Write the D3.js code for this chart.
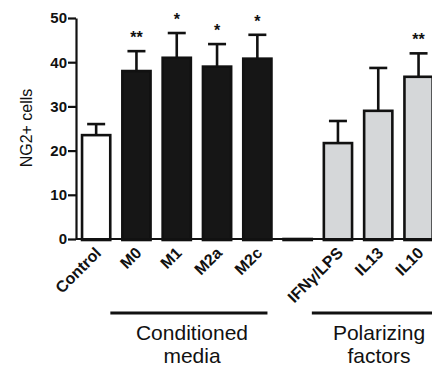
<!DOCTYPE html>
<html>
<head>
<meta charset="utf-8">
<script src="https://cdn.jsdelivr.net/npm/d3@7"></script>
<style>
  body { margin: 0; background: #fff; }
  text { font-family: "Liberation Sans", Arial, sans-serif; fill: #111; }
</style>
</head>
<body>
<div id="chart"></div>
<script>
// data
var categories = ["Control", "M0", "M1", "M2a", "M2c", "", "IFN\u03b3/LPS", "IL13", "IL10"];
var values     = [23.5, 38.0, 41.0, 39.0, 40.8, 0, 21.7, 29.0, 36.7];
var errors     = [2.5, 4.5, 5.6, 5.1, 5.4, 0, 5.0, 9.7, 5.3];
var stars      = ["", "**", "*", "*", "*", "", "", "", "**"];
var groupIdx   = [0, 1, 1, 1, 1, 1, 2, 2, 2];   // 0 control, 1 conditioned, 2 polarizing
var yTicks     = [0, 10, 20, 30, 40, 50];
var groupLabels = [["Conditioned", "media"], ["Polarizing", "factors"]];

var fills = ["#ffffff", "#161616", "#d5d7d9"];

var width = 432, height = 366;

// one row per bar, built from the arrays above
var rows = categories.map(function(c, i) {
  return { i: i, cat: c, v: values[i], e: errors[i], star: stars[i], g: groupIdx[i] };
});

var svg = d3.select("#chart")
  .append("svg")
    .attr("width", width)
    .attr("height", height);

// scales
var x = d3.scaleBand()
    .domain(d3.range(categories.length))
    .range([76, 438.7])
    .paddingInner(0.3)
    .paddingOuter(0.15);

var y = d3.scaleLinear()
    .domain([0, 50])
    .range([239, 18]);

function cx(d) { return x(d.i) + x.bandwidth() / 2; }

// bars
svg.selectAll("rect.bar")
  .data(rows)
  .enter()
  .append("rect")
    .attr("class", "bar")
    .attr("x", function(d) { return x(d.i); })
    .attr("y", function(d) { return y(d.v); })
    .attr("width", x.bandwidth())
    .attr("height", function(d) { return y(0) - y(d.v) + 1; })
    .style("fill", function(d) { return fills[d.g]; })
    .style("stroke", "#111")
    .style("stroke-width", 2.6);

// error bars (upper only)
var err = svg.selectAll("g.err")
  .data(rows.filter(function(d) { return d.e > 0; }))
  .enter()
  .append("g")
    .attr("class", "err");

err.append("line")
    .attr("x1", cx)
    .attr("x2", cx)
    .attr("y1", function(d) { return y(d.v); })
    .attr("y2", function(d) { return y(d.v + d.e); })
    .style("stroke", "#111")
    .style("stroke-width", 2.6);

err.append("line")
    .attr("x1", function(d) { return cx(d) - 9; })
    .attr("x2", function(d) { return cx(d) + 9; })
    .attr("y1", function(d) { return y(d.v + d.e); })
    .attr("y2", function(d) { return y(d.v + d.e); })
    .style("stroke", "#111")
    .style("stroke-width", 2.6);

// significance stars
svg.selectAll("text.star")
  .data(rows.filter(function(d) { return d.star; }))
  .enter()
  .append("text")
    .attr("class", "star")
    .attr("x", cx)
    .attr("y", function(d) { return y(d.v + d.e) - 8; })
    .attr("text-anchor", "middle")
    .style("font-size", "16px")
    .style("font-weight", "bold")
    .text(function(d) { return d.star; });

// y axis
var yAxis = svg.append("g")
    .attr("transform", "translate(76,0)")
    .call(d3.axisLeft(y).tickValues(yTicks).tickSize(8).tickPadding(1).tickSizeOuter(0));
yAxis.select(".domain").style("stroke", "#111").style("stroke-width", 2.2);
yAxis.selectAll(".tick line").style("stroke", "#111").style("stroke-width", 2.2);
yAxis.selectAll(".tick text")
    .style("font-family", "'Liberation Sans', Arial, sans-serif")
    .style("font-size", "15px")
    .style("font-weight", "bold")
    .style("fill", "#111");

// x baseline
svg.append("line")
    .attr("x1", 76)
    .attr("x2", width)
    .attr("y1", y(0))
    .attr("y2", y(0))
    .style("stroke", "#111")
    .style("stroke-width", 2.2);

// category labels
svg.selectAll("text.cat")
  .data(rows)
  .enter()
  .append("text")
    .attr("class", "cat")
    .attr("text-anchor", "end")
    .attr("transform", function(d) {
      return "translate(" + (cx(d) + 6) + "," + 254 + ") rotate(-45)";
    })
    .style("font-size", "16px")
    .style("font-weight", "bold")
    .text(function(d) { return d.cat; });

// y axis title
svg.append("text")
    .attr("transform", "translate(32,128) rotate(-90)")
    .attr("text-anchor", "middle")
    .style("font-size", "16px")
    .text("NG2+ cells");

// group brackets
var groups = [
  { first: 1, last: 4 },
  { first: 6, last: 8 }
];
groups.forEach(function(g, k) {
  var x0 = x(g.first) - 12, x1 = k === 0 ? x(g.last) + x.bandwidth() - 4 : width + 40;
  svg.append("line")
      .attr("x1", x0).attr("x2", x1)
      .attr("y1", 313).attr("y2", 313)
      .style("stroke", "#111")
      .style("stroke-width", 3);
  var tx = k === 0 ? 192 : 379;
  groupLabels[k].forEach(function(t, j) {
    svg.append("text")
        .attr("x", tx)
        .attr("y", 340 + j * 23)
        .attr("text-anchor", "middle")
        .style("font-size", "21px")
        .text(t);
  });
});
</script>
</body>
</html>
